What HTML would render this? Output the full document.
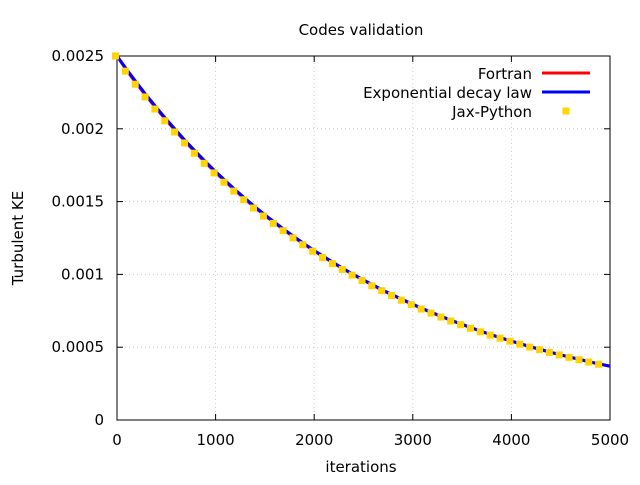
<!DOCTYPE html>
<html><head><meta charset="utf-8"><style>
body{margin:0;background:#fff}
svg text{font-family:"DejaVu Sans",sans-serif;font-size:15px;fill:#000}
</style></head><body>
<svg width="640" height="480">
<g id="grid"></g>
<g id="axes"></g>
<g id="series"></g>
<text x="361" y="35" text-anchor="middle">Codes validation</text>
<text x="361" y="472" text-anchor="middle">iterations</text>
<text transform="translate(23,238) rotate(-90)" text-anchor="middle">Turbulent KE</text>
<g>
<g><text x="532" y="79" text-anchor="end">Fortran</text><line x1="542" y1="73" x2="590" y2="73" stroke="#f00" stroke-width="3"/></g>
<g><text x="532" y="98" text-anchor="end">Exponential decay law</text><line x1="542" y1="92" x2="590" y2="92" stroke="#00f" stroke-width="3"/></g>
<g><text x="532" y="117" text-anchor="end">Jax-Python</text><rect x="562.5" y="107.5" width="7" height="7" fill="#ffd700"/></g>
</g>
</svg>
<script>
const iterations=[0,100,200,300,400,500,600,700,800,900,1000,1100,1200,1300,1400,1500,1600,1700,1800,1900,2000,2100,2200,2300,2400,2500,2600,2700,2800,2900,3000,3100,3200,3300,3400,3500,3600,3700,3800,3900,4000,4100,4200,4300,4400,4500,4600,4700,4800,4900];
const jaxKE=[0.0025,0.002396,0.002306,0.002219,0.002136,0.002055,0.001978,0.001903,0.001832,0.001763,0.001697,0.001633,0.001572,0.001513,0.001456,0.001401,0.00135,0.0013,0.001251,0.001204,0.001159,0.001116,0.001074,0.001034,0.000995,0.000958,0.000922,0.000888,0.000855,0.000823,0.000792,0.000762,0.000734,0.000707,0.00068,0.000655,0.00063,0.000606,0.000583,0.000562,0.000541,0.000521,0.000501,0.000483,0.000464,0.000447,0.00043,0.000414,0.000398,0.000383];
const lineIter=[0,100,200,300,400,500,600,700,800,900,1000,1100,1200,1300,1400,1500,1600,1700,1800,1900,2000,2100,2200,2300,2400,2500,2600,2700,2800,2900,3000,3100,3200,3300,3400,3500,3600,3700,3800,3900,4000,4100,4200,4300,4400,4500,4600,4700,4800,4900,5000];
const expKE=[0.0025,0.002406,0.002316,0.002229,0.002146,0.002065,0.001988,0.001913,0.001842,0.001773,0.001706,0.001642,0.001581,0.001521,0.001464,0.001409,0.001357,0.001306,0.001257,0.00121,0.001164,0.001121,0.001079,0.001038,0.000999,0.000962,0.000926,0.000891,0.000858,0.000826,0.000795,0.000765,0.000736,0.000709,0.000682,0.000657,0.000632,0.000608,0.000585,0.000563,0.000542,0.000522,0.000502,0.000484,0.000465,0.000448,0.000431,0.000415,0.000399,0.000384,0.00037];
const fortranKE=[0.0025,0.002399,0.002309,0.002222,0.002139,0.002058,0.001981,0.001906,0.001835,0.001766,0.0017,0.001636,0.001575,0.001516,0.001459,0.001404,0.001352,0.001302,0.001253,0.001206,0.001161,0.001118,0.001076,0.001036,0.000997,0.00096,0.000924,0.000889,0.000856,0.000824,0.000793,0.000763,0.000735,0.000708,0.000681,0.000656,0.000631,0.000607,0.000584,0.000562,0.000541,0.000521,0.000501,0.000483,0.000464,0.000447,0.00043,0.000414,0.000398,0.000383,0.000369];
const xTicks=[0,1000,2000,3000,4000,5000];
const yTicks=[0,0.0005,0.001,0.0015,0.002,0.0025];
const yTickLabels=["0","0.0005","0.001","0.0015","0.002","0.0025"];
const X0=117,X1=610,Y0=420,Y1=56;
const sx=v=>X0+(v-0)/5000*(X1-X0);
const sy=v=>Y0-(v/0.0025)*(Y0-Y1);
const NS="http://www.w3.org/2000/svg";
function mk(tag,attrs,parent){const e=document.createElementNS(NS,tag);for(const k in attrs)e.setAttribute(k,attrs[k]);parent.appendChild(e);return e;}
const grid=document.getElementById('grid'),axes=document.getElementById('axes'),series=document.getElementById('series');
xTicks.forEach(t=>{const x=sx(t);
 if(t>0&&t<5000){const g=mk('line',{x1:x,y1:Y0,x2:x,y2:Y1,stroke:'#ccc','stroke-dasharray':'1,3'},grid);}
 mk('line',{x1:x,y1:Y0,x2:x,y2:Y0-6,stroke:'#000'},axes);mk('line',{x1:x,y1:Y1,x2:x,y2:Y1+6,stroke:'#000'},axes);
 const tx=mk('text',{x:x,y:445,'text-anchor':'middle'},axes);tx.textContent=t;
 
 });
yTicks.forEach((t,i)=>{const y=sy(t);
 if(i>0&&i<yTicks.length-1){const g=mk('line',{x1:X0,y1:y,x2:X1,y2:y,stroke:'#ccc','stroke-dasharray':'1,3'},grid);}
 mk('line',{x1:X0,y1:y,x2:X0+6,y2:y,stroke:'#000'},axes);mk('line',{x1:X1,y1:y,x2:X1-6,y2:y,stroke:'#000'},axes);
 const tx=mk('text',{x:104,y:y+5,'text-anchor':'end'},axes);tx.textContent=yTickLabels[i];
 
 });
const fr=mk('rect',{x:X0,y:Y1,width:X1-X0,height:Y0-Y1,fill:'none',stroke:'#000'},axes);


function path(xs,ys){return xs.map((v,i)=>(i?'L':'M')+sx(v).toFixed(1)+','+sy(ys[i]).toFixed(1)).join('');}
const fl=mk('path',{d:path(lineIter,fortranKE),stroke:'#f00','stroke-width':3,fill:'none'},series);


const el=mk('path',{d:path(lineIter,expKE),stroke:'#00f','stroke-width':3,fill:'none'},series);


iterations.forEach((v,i)=>{const r=mk('rect',{x:sx(v)-5,y:sy(jaxKE[i])-3.5,width:7,height:7,fill:'#ffd400'},series);
 
 });
</script>
</body></html>
